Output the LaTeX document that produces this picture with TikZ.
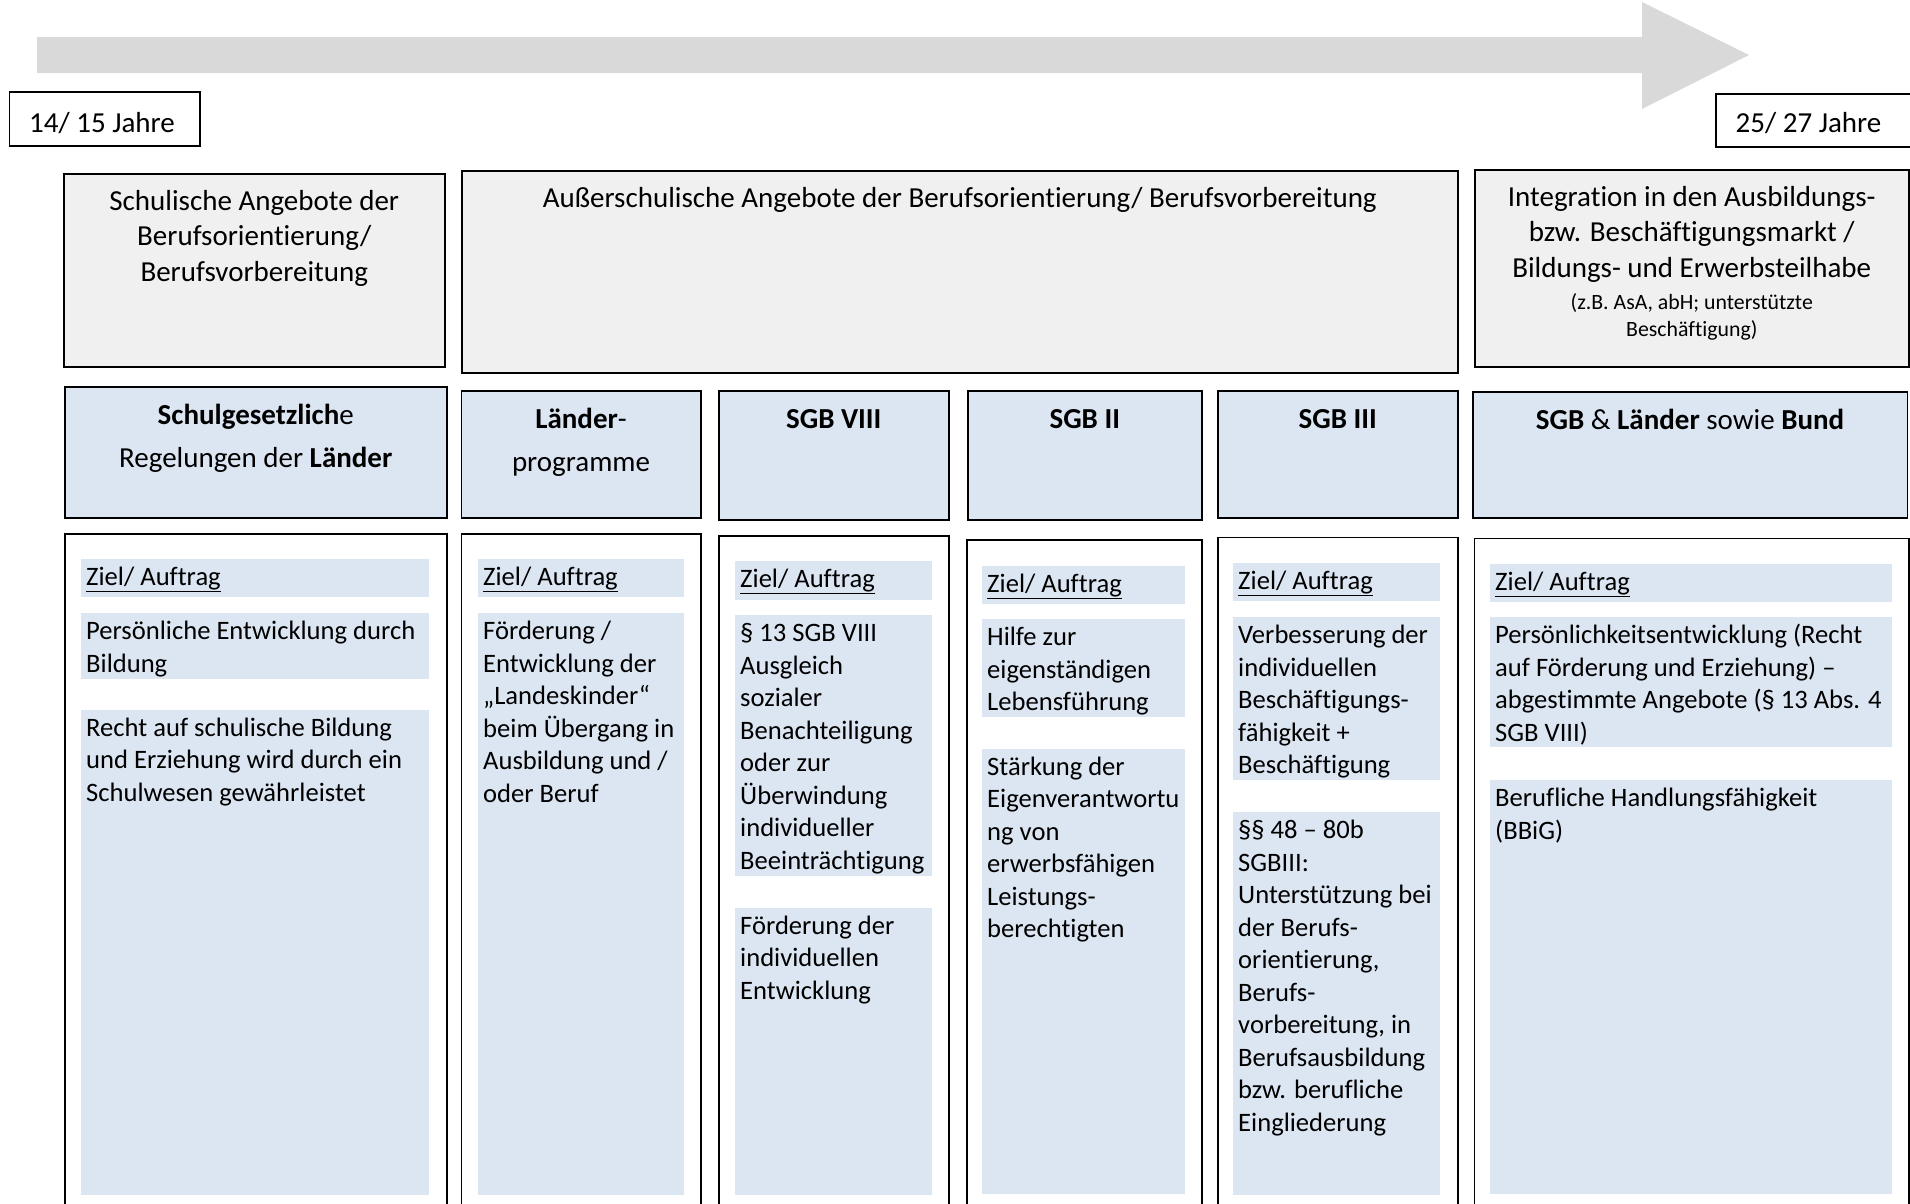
\documentclass[tikz,border=0pt]{standalone}
\usepackage{fontspec}
\setmainfont{Carlito}[Ligatures=NoCommon]
\definecolor{pfeilgrau}{HTML}{D9D9D9}
\definecolor{kastengrau}{HTML}{F0F0F0}
\definecolor{kastenblau}{HTML}{DCE6F2}
\newcommand{\kopfschrift}{\fontsize{29}{35.5}\selectfont}
\newcommand{\grundschrift}{\fontsize{26.6}{32.5}\selectfont}
\newcommand{\kleinschrift}{\fontsize{21.8}{26.6}\selectfont}

\begin{document}
\begin{tikzpicture}[x=1pt, y=-1pt,
                    rahmen/.style={draw, line width=1.5pt, anchor=north west, inner sep=0pt},
                    alter/.style={rahmen, fill=white},
                    bereich/.style={rahmen, fill=kastengrau},
                    recht/.style={rahmen, fill=kastenblau},
                    spalte/.style={rahmen, fill=white},
                    feld/.style={fill=kastenblau, anchor=north west, inner sep=0pt},
                    kopftext/.style={anchor=north, align=center, inner ysep=12.15pt, font=\kopfschrift},
                    rechttext/.style={anchor=north, align=center, inner ysep=13.6pt, font=\kopfschrift},
                    feldtext/.style={anchor=north west, align=left, inner xsep=5pt, inner ysep=3.75pt, font=\grundschrift},
                    altertext/.style={anchor=north west, inner xsep=20.5pt, inner ysep=16pt, font=\kopfschrift}]
    \useasboundingbox (0,0) rectangle (1910,1203);

    % Zeitpfeil
    \fill[pfeilgrau] (37,37) -- (1642,37) -- (1642,2) -- (1749,55) -- (1642,109) -- (1642,73) -- (37,73) -- cycle;

    % Alter
    \node[alter, minimum width=190.5pt, minimum height=54pt, label={[altertext]north west:{\strut 14/ 15 Jahre}}] (jung) at (8.5,91) {};
    \node[alter, minimum width=205pt, minimum height=53pt, label={[altertext, inner ysep=14.5pt]north west:{\strut 25/ 27 Jahre}}] (alt) at (1715,93) {};

    % Angebote
    \node[bereich, minimum width=381pt, minimum height=193pt, label={[kopftext]north:{\strut Schulische Angebote der\\Berufsorientierung/\\Berufsvorbereitung}}] (schule) at (63,173) {};
    \node[bereich, minimum width=996pt, minimum height=202pt, label={[kopftext]north:{\strut Außerschulische Angebote der Berufsorientierung/ Berufsvorbereitung}}] (ausser) at (461,170) {};
    \node[bereich, minimum width=434pt, minimum height=197pt, label={[kopftext]north:{\strut Integration in den Ausbildungs-\\bzw. Beschäftigungsmarkt /\\Bildungs- und Erwerbsteilhabe\\[-3pt]\kleinschrift (z.B. AsA, abH; unterstützte\\[-8.5pt]\kleinschrift Beschäftigung)}}] (integration) at (1474,169) {};

    % Rechtsgrundlagen
    \node[recht, minimum width=382pt, minimum height=131pt, label={[rechttext]north:{\strut\textbf{Schulgesetzlich}e\\[7pt]Regelungen der \textbf{Länder}}}] (schulgesetz) at (64,386) {};
    \node[recht, minimum width=239.5pt, minimum height=127pt, label={[rechttext]north:{\strut\textbf{Länder}-\\[7pt]programme}}] (laender) at (460.5,390) {};
    \node[recht, minimum width=230pt, minimum height=129pt, label={[rechttext]north:{\strut\textbf{SGB VIII}}}] (sgbacht) at (718,390) {};
    \node[recht, minimum width=234pt, minimum height=129pt, label={[rechttext]north:{\strut\textbf{SGB II}}}] (sgbzwei) at (967,390) {};
    \node[recht, minimum width=240pt, minimum height=127pt, label={[rechttext]north:{\strut\textbf{SGB III}}}] (sgbdrei) at (1217,390) {};
    \node[recht, minimum width=434.5pt, minimum height=126pt, label={[rechttext]north:{\strut\textbf{SGB} \& \textbf{Länder} sowie \textbf{Bund}}}] (bund) at (1472,391) {};

    % Spalten
    \node[spalte, minimum width=382pt, minimum height=690pt] (sp1) at (64,533) {};
    \node[spalte, minimum width=239.5pt, minimum height=690pt] (sp2) at (460.5,533) {};
    \node[spalte, minimum width=230pt, minimum height=690pt] (sp3) at (718,535) {};
    \node[spalte, minimum width=235pt, minimum height=690pt] (sp4) at (966,539) {};
    \node[spalte, minimum width=240pt, minimum height=690pt] (sp5) at (1217,536.5) {};
    \node[spalte, minimum width=434.4pt, minimum height=690pt] (sp6) at (1473.6,537.5) {};

    % Schulgesetz
    \node[feld, minimum width=348pt, minimum height=38pt, label={[feldtext]north west:{\strut\underline{Ziel/ Auftrag}}}] (ziel1) at (81,559) {};
    \node[feld, minimum width=348pt, minimum height=66pt, label={[feldtext]north west:{\strut Persönliche Entwicklung durch\\Bildung}}] (entw1) at (81,613) {};
    \node[feld, minimum width=348pt, minimum height=485.5pt, label={[feldtext]north west:{\strut Recht auf schulische Bildung\\und Erziehung wird durch ein\\Schulwesen gewährleistet}}] (recht1) at (81,709.5) {};

    % Landesprogramme
    \node[feld, minimum width=206pt, minimum height=38pt, label={[feldtext]north west:{\strut\underline{Ziel/ Auftrag}}}] (ziel2) at (478,559) {};
    \node[feld, minimum width=206pt, minimum height=582pt, label={[feldtext]north west:{\strut Förderung /\\Entwicklung der\\„Landeskinder“\\beim Übergang in\\Ausbildung und /\\oder Beruf}}] (foerd2) at (478,613) {};

    % SGB VIII
    \node[feld, minimum width=197pt, minimum height=39pt, label={[feldtext]north west:{\strut\underline{Ziel/ Auftrag}}}] (ziel3) at (735,561) {};
    \node[feld, minimum width=197pt, minimum height=261pt, label={[feldtext]north west:{\strut § 13 SGB VIII\\Ausgleich\\sozialer\\Benachteiligung\\oder zur\\Überwindung\\individueller\\Beeinträchtigung}}] (ausgl3) at (735,615) {};
    \node[feld, minimum width=197pt, minimum height=287.4pt, label={[feldtext]north west:{\strut Förderung der\\individuellen\\Entwicklung}}] (foerd3) at (735,907.6) {};

    % SGB II
    \node[feld, minimum width=203pt, minimum height=38pt, label={[feldtext]north west:{\strut\underline{Ziel/ Auftrag}}}] (ziel4) at (982,566) {};
    \node[feld, minimum width=203pt, minimum height=98pt, label={[feldtext]north west:{\strut Hilfe zur\\eigenständigen\\Lebensführung}}] (hilfe4) at (982,619) {};
    \node[feld, minimum width=203pt, minimum height=445.3pt, label={[feldtext]north west:{\strut Stärkung der\\Eigenverantwortu\\ng von\\erwerbsfähigen\\Leistungs-\\berechtigten}}] (staerk4) at (982,748.7) {};

    % SGB III
    \node[feld, minimum width=207pt, minimum height=38pt, label={[feldtext]north west:{\strut\underline{Ziel/ Auftrag}}}] (ziel5) at (1233,563) {};
    \node[feld, minimum width=207pt, minimum height=163pt, label={[feldtext]north west:{\strut Verbesserung der\\individuellen\\Beschäftigungs-\\fähigkeit +\\Beschäftigung}}] (verb5) at (1233,617) {};
    \node[feld, minimum width=207pt, minimum height=383pt, label={[feldtext]north west:{\strut §§ 48 – 80b\\SGBIII:\\Unterstützung bei\\der Berufs-\\orientierung,\\Berufs-\\vorbereitung, in\\Berufsausbildung\\bzw. berufliche\\Eingliederung}}] (unterst5) at (1233,812) {};

    % SGB, Laender und Bund
    \node[feld, minimum width=402pt, minimum height=38.5pt, label={[feldtext]north west:{\strut\underline{Ziel/ Auftrag}}}] (ziel6) at (1490,563.5) {};
    \node[feld, minimum width=402pt, minimum height=130pt, label={[feldtext]north west:{\strut Persönlichkeitsentwicklung (Recht\\auf Förderung und Erziehung) –\\abgestimmte Angebote (§ 13 Abs. 4\\SGB VIII)}}] (pers6) at (1490,617) {};
    \node[feld, minimum width=402pt, minimum height=414pt, label={[feldtext]north west:{\strut Berufliche Handlungsfähigkeit\\(BBiG)}}] (hand6) at (1490,780) {};
\end{tikzpicture}
\end{document}
